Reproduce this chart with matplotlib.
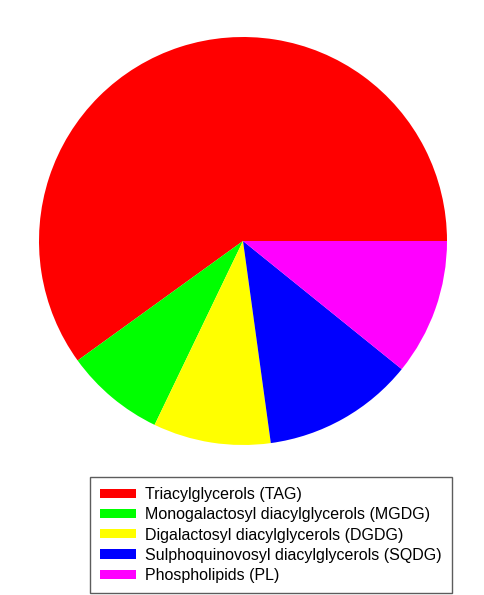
import matplotlib.pyplot as plt
from matplotlib.patches import Patch

plt.rcParams['font.family'] = ['Liberation Sans', 'DejaVu Sans']

labels = ['Triacylglycerols (TAG)',
          'Monogalactosyl diacylglycerols (MGDG)',
          'Digalactosyl diacylglycerols (DGDG)',
          'Sulphoquinovosyl diacylglycerols (SQDG)',
          'Phospholipids (PL)']
values = [59.9, 7.9, 9.3, 12.0, 10.8]
colors = ['#ff0000', '#00ff00', '#ffff00', '#0000ff', '#ff00ff']

fig = plt.figure(figsize=(4.85, 5.95), dpi=100)
r = 204
ax = fig.add_axes([(243 - r) / 485, (595 - 241 - r) / 595, 2 * r / 485, 2 * r / 595])
ax.pie(values, colors=colors, startangle=0, counterclock=True,
       wedgeprops=dict(linewidth=0))
ax.set_xlim(-1, 1)
ax.set_ylim(-1, 1)
ax.set_aspect('auto')
ax.axis('off')

handles = [Patch(facecolor=c, edgecolor='none') for c in colors]
leg = fig.legend(handles, labels, loc='upper left',
                 bbox_to_anchor=(90 / 485, 1 - 477 / 595),
                 fontsize=11.5, frameon=True, fancybox=False,
                 handlelength=2.25, handleheight=0.5, handletextpad=0.55,
                 labelspacing=0.32, borderpad=0.65, borderaxespad=0)
leg.get_frame().set_edgecolor('#333333')
leg.get_frame().set_linewidth(1.0)

fig.savefig('out.png', dpi=100)
